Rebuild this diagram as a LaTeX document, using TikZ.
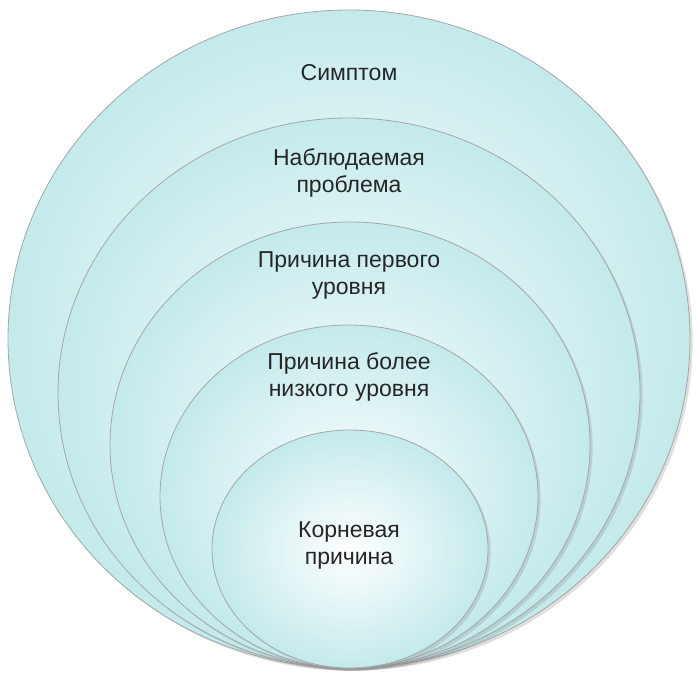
\documentclass[tikz,border=0pt]{standalone}
\usepackage{fontspec}
\setmainfont{Liberation Sans}
\usetikzlibrary{shapes.geometric,shadows}
\definecolor{ringedge}{RGB}{196,234,236}
\tikzset{
  ring/.style={ellipse, draw=gray!70, line width=0.8pt, inner sep=0pt,
    inner color=white, outer color=ringedge,
    drop shadow={opacity=0.25}},
  lbl/.style={align=center, font=\fontsize{23}{27}\selectfont, text=black!85}
}
\begin{document}
\begin{tikzpicture}[x=1pt,y=-1pt]
\useasboundingbox (0,0) rectangle (700,698);
% rings, all touching at the bottom
\node[ring, minimum width=682, minimum height=658] (symptom) at (349,339) {};
\node[ring, minimum width=582, minimum height=550] (observed) at (349,393) {};
\node[ring, minimum width=480, minimum height=446] (first) at (350,445) {};
\node[ring, minimum width=378, minimum height=343] (lower) at (349,496.5) {};
\node[ring, minimum width=276, minimum height=238] (root) at (350,549) {};

% labels
\node[lbl] (t1) at (349,73) {Симптом};
\node[lbl] (t2) at (349,173) {Наблюдаемая\\проблема};
\node[lbl] (t3) at (349,275) {Причина первого\\уровня};
\node[lbl] (t4) at (349,377) {Причина более\\низкого уровня};
\node[lbl] (t5) at (349,545) {Корневая\\причина};
\end{tikzpicture}
\end{document}
